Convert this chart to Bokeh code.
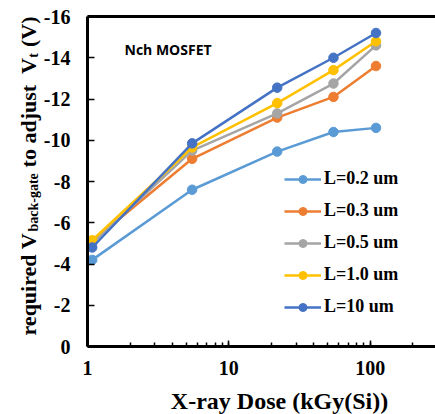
import math
from bokeh.plotting import figure
from bokeh.models import (Range1d, LogAxis, FixedTicker, PrintfTickFormatter, Label,
                          SingleIntervalTicker, LogTicker)
from bokeh.embed import file_html
from bokeh.resources import INLINE

# ---- data ----
dose = [1.08, 5.5, 22, 55, 110]                      # X-ray dose, kGy(Si)
series_names = ["L=0.2 um", "L=0.3 um", "L=0.5 um", "L=1.0 um", "L=10 um"]
vbg_L02 = [-4.2, -7.6, -9.45, -10.4, -10.6]
vbg_L03 = [-5.1, -9.1, -11.1, -12.1, -13.6]
vbg_L05 = [-5.0, -9.5, -11.3, -12.75, -14.6]
vbg_L10 = [-5.15, -9.65, -11.8, -13.4, -14.8]
vbg_L100 = [-4.8, -9.85, -12.55, -14.0, -15.2]
colors = ["#5B9BD5", "#ED7D31", "#A5A5A5", "#FFC000", "#4472C4"]
all_series = [vbg_L02, vbg_L03, vbg_L05, vbg_L10, vbg_L100]

SERIF = "Liberation Serif"
NB = "\u00a0"

p = figure(width=435, height=414, x_axis_type="log",
           x_range=Range1d(1, 290), y_range=Range1d(0, -16),
           output_backend="svg", toolbar_location=None,
           min_border_left=86, min_border_right=0,
           min_border_top=16, min_border_bottom=68)
p.outline_line_color = None
p.grid.visible = False
p.background_fill_color = "white"
p.border_fill_color = "white"

# x axis
xa = p.xaxis[0]
xa.ticker = LogTicker(num_minor_ticks=10)
xa.formatter = PrintfTickFormatter(format="%d")
xa.axis_line_width = 3
xa.axis_line_color = "black"
xa.major_tick_in = 6
xa.major_tick_out = 0
xa.minor_tick_in = 4
xa.minor_tick_out = 0
xa.major_tick_line_width = 1.5
xa.minor_tick_line_width = 1.5
xa.major_tick_line_color = "black"
xa.minor_tick_line_color = "black"
xa.major_label_text_font = SERIF
xa.major_label_text_font_style = "bold"
xa.major_label_text_font_size = "20px"
xa.major_label_text_color = "black"
xa.major_label_standoff = 14

# y axis
ya = p.yaxis[0]
ya.ticker = SingleIntervalTicker(interval=2, num_minor_ticks=0)
ya.formatter = PrintfTickFormatter(format="%d")
ya.axis_line_width = 3
ya.axis_line_color = "black"
ya.major_tick_in = 7
ya.major_tick_out = 0
ya.major_tick_line_width = 1.5
ya.major_tick_line_color = "black"
ya.minor_tick_line_color = None
ya.major_label_text_font = SERIF
ya.major_label_text_font_style = "bold"
ya.major_label_text_font_size = "20px"
ya.major_label_text_color = "black"
ya.major_label_standoff = 17

# top frame line
top = LogAxis(ticker=FixedTicker(ticks=[], minor_ticks=[]), axis_line_width=3,
              axis_line_color="black", major_label_text_font_size="0px",
              major_tick_in=0, major_tick_out=0, minor_tick_in=0, minor_tick_out=0)
p.add_layout(top, "above")

for ys, c, n in zip(all_series, colors, series_names):
    p.line(dose, ys, line_color=c, line_width=2.5, legend_label=n)
    p.scatter(dose, ys, size=9.5, fill_color=c, line_color=c, legend_label=n)

lg = p.legend[0]
lg.location = (197, 29)
lg.border_line_color = None
lg.background_fill_alpha = 0
lg.label_text_font = SERIF
lg.label_text_font_style = "bold"
lg.label_text_font_size = "18px"
lg.label_text_color = "black"
lg.glyph_width = 37
lg.glyph_height = 20
lg.label_height = 20
lg.spacing = 11
lg.padding = 0
lg.margin = 0
lg.label_standoff = 3

# annotation title
p.add_layout(Label(x=37, y=297, x_units="screen", y_units="screen", text="Nch MOSFET",
                   text_font="Open Sans", text_font_style="bold", text_font_size="14px",
                   text_baseline="middle", text_align="left", text_color="black"))

# x axis label (in the panel below the axis)
p.add_layout(Label(x=192, y=3, x_units="screen", y_units="screen",
                   text="X-ray Dose (kGy(Si))", text_font=SERIF, text_font_style="bold",
                   text_font_size="24px", text_align="center", text_baseline="alphabetic",
                   text_color="black"), "below")

# y axis label with subscripts (rotated), two layers: subscripts and main text
sub_text = "back-gate" + NB * 33 + "t"
main_text = "required V" + NB * 12 + "to adjust" + NB * 2 + "V" + NB * 2 + "(V)"
p.add_layout(Label(x=8, y=115, x_units="screen", y_units="screen", text=sub_text,
                   angle=math.pi / 2, text_font=SERIF, text_font_style="bold",
                   text_font_size="14px", text_align="left", text_baseline="alphabetic",
                   text_color="black"), "left")
p.add_layout(Label(x=28, y=11, x_units="screen", y_units="screen", text=main_text,
                   angle=math.pi / 2, text_font=SERIF, text_font_style="bold",
                   text_font_size="22px", text_align="left", text_baseline="alphabetic",
                   text_color="black"), "left")

open("out.html", "w").write(file_html(p, INLINE))
